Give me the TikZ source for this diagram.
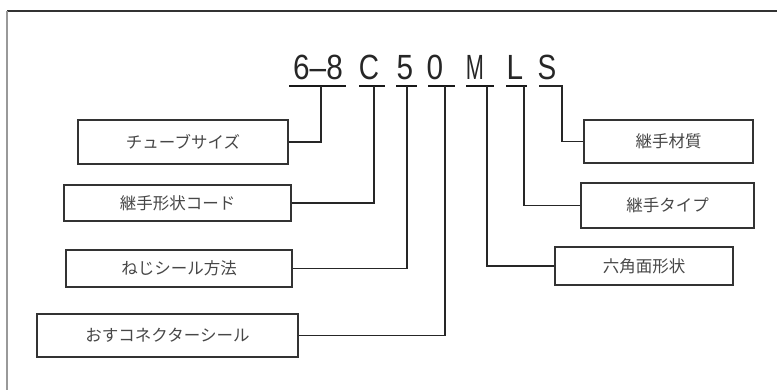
\documentclass[tikz,border=0pt]{standalone}
\usepackage{fontspec}
\setmainfont{Liberation Sans}
\newfontfamily\cjk{Noto Sans CJK JP}
\begin{document}
\begin{tikzpicture}[x=1pt,y=-1pt,
  box/.style={draw=black!80, line width=1.6pt, inner sep=0pt, font=\cjk\fontsize{16.5}{16.5}\selectfont, text=black!72},
  conn/.style={draw=black!85, line width=1.6pt},
  uline/.style={draw=black!90, line width=1.8pt},
  code/.style={font=\fontsize{35}{35}\selectfont, text=black!85, inner sep=0pt, anchor=base}]
\useasboundingbox (0,0) rectangle (777,390);
% frame
\coordinate (f0) at (7,11);
\coordinate (f1) at (777,11);
\coordinate (f2) at (7,390);
\draw[draw=black!80, line width=1.3pt] (f0) -- (f1);
\draw[draw=black!40, line width=2pt] (f0) -- (f2);

% code letters
\node[code] (k1) at (318,80) {\scalebox{0.85}[1]{6–8}};
\node[code] (k2) at (369,80) {\scalebox{0.8}[1]{C}};
\node[code] (k3) at (405,80) {\scalebox{0.85}[1]{5}};
\node[code] (k4) at (435,80) {\scalebox{0.85}[1]{0}};
\node[code] (k5) at (475,80) {\scalebox{0.62}[1]{M}};
\node[code] (k6) at (515,80) {\scalebox{0.85}[1]{L}};
\node[code] (k7) at (547,80) {\scalebox{0.8}[1]{S}};

% underline ends and drop points
\coordinate (u1a) at (289,86); \coordinate (u1b) at (346,86); \coordinate (d1) at (321,86);
\coordinate (u2a) at (359,86); \coordinate (u2b) at (385,86); \coordinate (d2) at (374,86);
\coordinate (u3a) at (396,86); \coordinate (u3b) at (417,86); \coordinate (d3) at (407,86);
\coordinate (u4a) at (428,86); \coordinate (u4b) at (455,86); \coordinate (d4) at (445,86);
\coordinate (u5a) at (466,86); \coordinate (u5b) at (494,86); \coordinate (d5) at (487,86);
\coordinate (u6a) at (506,86); \coordinate (u6b) at (527,86); \coordinate (d6) at (524,86);
\coordinate (u7a) at (539,86); \coordinate (d7) at (562,86);

\draw[uline] (u1a) -- (u1b);
\draw[uline] (u2a) -- (u2b);
\draw[uline] (u3a) -- (u3b);
\draw[uline] (u4a) -- (u4b);
\draw[uline] (u5a) -- (u5b);
\draw[uline] (u6a) -- (u6b);

% boxes
\node[box, minimum width=210pt, minimum height=44pt] (bA) at (183,142) {チューブサイズ};
\node[box, minimum width=227pt, minimum height=36pt] (bB) at (177.5,203) {継手形状コード};
\node[box, minimum width=226pt, minimum height=37pt] (bC) at (179,268.5) {ねじシール方法};
\node[box, minimum width=261pt, minimum height=43pt] (bD) at (167.5,335.5) {おすコネクターシール};
\node[box, minimum width=169pt, minimum height=43pt] (bE) at (668.5,141.5) {継手材質};
\node[box, minimum width=173pt, minimum height=45pt] (bF) at (667.5,205.5) {継手タイプ};
\node[box, minimum width=178pt, minimum height=38pt] (bG) at (644,266) {六角面形状};

% connectors
\draw[conn] (bA.east) -| (d1);
\draw[conn] (bB.east) -| (d2);
\draw[conn] (bC.east) -| (d3);
\draw[conn] (bD.east) -| (d4);
\draw[conn] (bG.west) -| (d5);
\draw[conn] (bF.west) -| (d6);
\draw[conn] (u7a) -- (d7) |- (bE.west);
\end{tikzpicture}
\end{document}
